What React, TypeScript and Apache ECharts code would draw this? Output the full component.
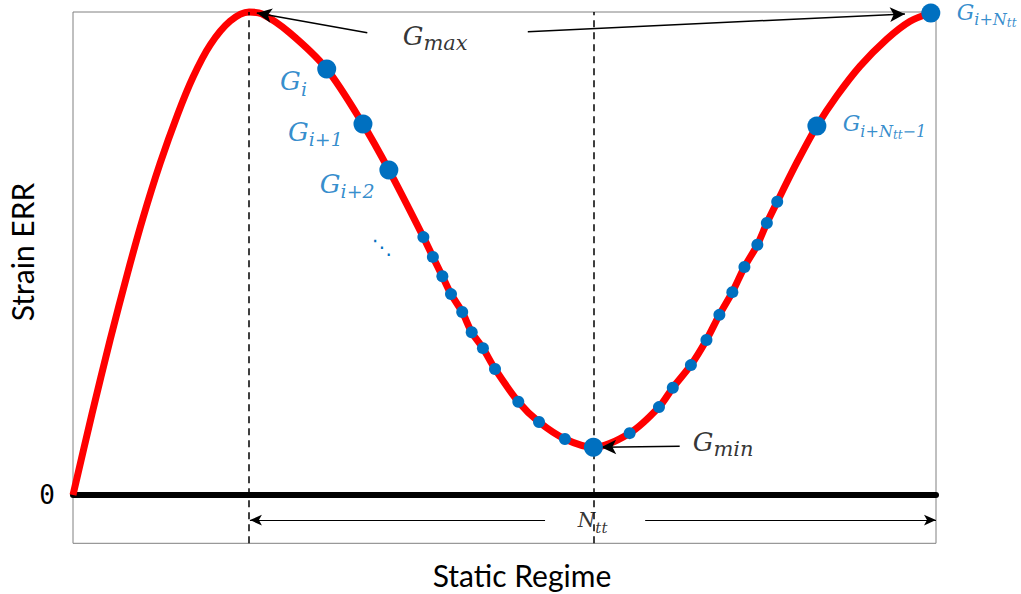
import React, { useEffect, useRef } from 'react';
import * as echarts from 'echarts';

// Red curve (x: 0..100 across the frame, y: strain ERR normalised so G_max = 1)
const curveX = [0.0, 2.2, 4.3, 6.3, 8.1, 10.1, 12.1, 13.9, 15.9, 18.2, 20.4, 21.9, 25.1, 29.4, 33.6, 36.6, 40.6, 41.7, 42.8, 43.8, 45.1, 46.2, 47.5, 48.9, 51.6, 54.0, 57.0, 60.3, 64.5, 67.9, 69.5, 71.6, 73.4, 74.9, 76.4, 77.8, 79.3, 80.4, 81.6, 83.9, 86.2, 88.5, 91.2, 94.3, 97.0, 99.4];
const curveY = [0, 0.168, 0.321, 0.458, 0.573, 0.687, 0.787, 0.865, 0.932, 0.981, 1.0, 0.996, 0.957, 0.882, 0.768, 0.673, 0.534, 0.493, 0.453, 0.416, 0.379, 0.337, 0.304, 0.261, 0.193, 0.151, 0.116, 0.099, 0.128, 0.182, 0.222, 0.269, 0.321, 0.373, 0.42, 0.472, 0.518, 0.563, 0.607, 0.689, 0.764, 0.826, 0.888, 0.944, 0.981, 0.998];

// Large blue points: G_i, G_i+1, G_i+2, G_min, G_i+Ntt-1, G_i+Ntt
const bigDotX = [29.4, 33.6, 36.6, 60.3, 86.2, 99.4];
const bigDotY = [0.882, 0.768, 0.673, 0.099, 0.764, 0.998];

// Small blue points
const smallDotX = [40.6, 41.7, 42.8, 43.8, 45.1, 46.2, 47.5, 48.9, 51.6, 54.0, 57.0, 64.5, 67.9, 69.5, 71.6, 73.4, 74.9, 76.4, 77.8, 79.3, 80.4, 81.6];
const smallDotY = [0.534, 0.493, 0.453, 0.416, 0.379, 0.337, 0.304, 0.261, 0.193, 0.151, 0.116, 0.128, 0.182, 0.222, 0.269, 0.321, 0.373, 0.42, 0.472, 0.518, 0.563, 0.607];

// Dashed vertical guides (G_max and G_min positions)
const dashedX = [20.4, 60.3];

// Annotation labels (left edge of "G", centre of "G")
const labelTexts = [
  '{bg|G}{bs|i}',
  '{bg|G}{bs|i+1}',
  '{bg|G}{bs|i+2}',
  '{rg|G}{rs|i+N}{rss|tt}{rs|−1}',
  '{rg|G}{rs2|i+N}{rss2|tt}',
  '{kg|G}{ks|max}',
  '{kg|G}{ks2|min}',
  '{ng|N}{ns|tt}',
];
const labelX = [24.0, 24.9, 28.6, 89.2, 102.4, 38.2, 71.8, 58.5];
const labelY = [0.857, 0.752, 0.644, 0.77, 0.999, 0.95, 0.11, -0.052];

// Arrows: [fromX, fromY, toX, toY]
const arrowsThick = [
  [34.1, 0.957, 21.3, 0.998],
  [52.7, 0.959, 96.4, 0.996],
  [70.3, 0.101, 61.2, 0.099],
];
const arrowsThin = [
  [54.7, -0.052, 20.5, -0.052],
  [66.3, -0.052, 100, -0.052],
];

const yTicks = { min: -0.1, max: 1.0, interval: 0.1 };

const BLUE = '#0070C0';
const RED = '#FF0000';
const MATH = "'DejaVu Serif', serif";

export default function App() {
  const ref = useRef<HTMLDivElement>(null);

  useEffect(() => {
    if (!ref.current) return;
    const chart = echarts.init(ref.current, null, { renderer: 'svg' });

    const rich: any = {
      bg: { fontFamily: MATH, fontStyle: 'italic', fontSize: 26, color: BLUE },
      bs: { fontFamily: MATH, fontStyle: 'italic', fontSize: 19, color: BLUE, padding: [15, 0, 0, 0] },
      rg: { fontFamily: MATH, fontStyle: 'italic', fontSize: 22, color: BLUE },
      rs: { fontFamily: MATH, fontStyle: 'italic', fontSize: 16, color: BLUE, padding: [16, 0, 0, 0] },
      rss: { fontFamily: MATH, fontStyle: 'italic', fontSize: 12, color: BLUE, padding: [24, 0, 0, 0] },
      rs2: { fontFamily: MATH, fontStyle: 'italic', fontSize: 16, color: BLUE, padding: [14, 0, 0, 0] },
      rss2: { fontFamily: MATH, fontStyle: 'italic', fontSize: 12, color: BLUE, padding: [22, 0, 0, 0] },
      kg: { fontFamily: MATH, fontStyle: 'italic', fontSize: 26, color: '#000' },
      ks: { fontFamily: MATH, fontStyle: 'italic', fontSize: 21, color: '#000', padding: [13, 0, 0, 0] },
      ks2: { fontFamily: MATH, fontStyle: 'italic', fontSize: 21, color: '#000', padding: [14, 0, 0, 0] },
      ng: { fontFamily: MATH, fontStyle: 'italic', fontSize: 20, color: '#000' },
      ns: { fontFamily: MATH, fontStyle: 'italic', fontSize: 15, color: '#000', padding: [15, 0, 0, 0] },
    };

    const mkArrow = (a: number[]) => [
      { coord: [a[0], a[1]], symbol: 'none' },
      { coord: [a[2], a[3]], symbol: 'arrow' },
    ];

    const option: any = {
      animation: false,
      grid: {
        left: 73,
        right: 85,
        top: 12,
        bottom: 50.7,
        show: true,
        borderColor: '#808080',
        borderWidth: 1,
        backgroundColor: 'transparent',
      },
      xAxis: {
        type: 'value',
        min: 0,
        max: 100,
        axisLine: { show: true, onZero: true, lineStyle: { color: '#000', width: 6 } },
        axisTick: { show: false },
        axisLabel: { show: false },
        splitLine: { show: false },
      },
      yAxis: {
        type: 'value',
        min: yTicks.min,
        max: yTicks.max,
        interval: yTicks.interval,
        axisLine: { show: false },
        axisTick: { show: false },
        splitLine: { show: false },
        axisLabel: {
          show: true,
          margin: 18,
          fontFamily: "'DejaVu Sans Mono', monospace",
          fontSize: 26,
          color: '#000',
          formatter: (v: number) => (Math.abs(v) < 1e-9 ? '0' : ''),
        },
      },
      graphic: [
        {
          type: 'text',
          x: 22,
          y: 252,
          rotation: Math.PI / 2,
          style: {
            text: 'Strain ERR',
            fontFamily: 'Lato, sans-serif',
            fontSize: 30,
            fill: '#000',
            align: 'center',
            verticalAlign: 'middle',
          },
        },
        {
          type: 'text',
          x: 522,
          y: 575,
          style: {
            text: 'Static Regime',
            fontFamily: 'Lato, sans-serif',
            fontSize: 30,
            fill: '#000',
            align: 'center',
            verticalAlign: 'middle',
          },
        },
        {
          type: 'text',
          x: 382,
          y: 247,
          style: {
            text: '⋱',
            fontFamily: "'DejaVu Sans', sans-serif",
            fontSize: 20,
            fill: BLUE,
            align: 'center',
            verticalAlign: 'middle',
          },
        },
      ],
      series: [
        {
          type: 'line',
          data: [],
          silent: true,
          z: 1,
          markLine: {
            silent: true,
            symbol: 'none',
            label: { show: false },
            lineStyle: { color: '#000', width: 1.5, type: [7, 5] },
            data: dashedX.map((x) => ({ xAxis: x })),
          },
        },
        {
          type: 'line',
          data: [],
          silent: true,
          z: 6,
          markLine: {
            silent: true,
            symbolSize: [11, 15],
            label: { show: false },
            lineStyle: { color: '#000', width: 1.5, type: 'solid' },
            data: arrowsThick.map(mkArrow),
          },
        },
        {
          type: 'line',
          data: [],
          silent: true,
          z: 6,
          markLine: {
            silent: true,
            symbolSize: [8, 12],
            label: { show: false },
            lineStyle: { color: '#000', width: 1, type: 'solid' },
            data: arrowsThin.map(mkArrow),
          },
        },
        {
          type: 'line',
          data: curveX.map((x, i) => [x, curveY[i]]),
          smooth: 0.3,
          showSymbol: false,
          clip: false,
          silent: true,
          z: 3,
          lineStyle: { color: RED, width: 7 },
        },
        {
          type: 'scatter',
          data: smallDotX.map((x, i) => [x, smallDotY[i]]),
          symbolSize: 12,
          clip: false,
          silent: true,
          z: 4,
          itemStyle: { color: BLUE, opacity: 1 },
        },
        {
          type: 'scatter',
          data: bigDotX.map((x, i) => [x, bigDotY[i]]),
          symbolSize: 19,
          clip: false,
          silent: true,
          z: 5,
          itemStyle: { color: BLUE, opacity: 1 },
        },
        {
          type: 'scatter',
          data: labelX.map((x, i) => ({
            value: [x, labelY[i]],
            label: { formatter: labelTexts[i] },
          })),
          symbolSize: 1,
          clip: false,
          silent: true,
          z: 7,
          itemStyle: { color: 'rgba(0,0,0,0)' },
          label: {
            show: true,
            position: 'inside',
            align: 'left',
            verticalAlign: 'middle',
            rich,
          },
        },
      ],
    };

    chart.setOption(option);
    return () => chart.dispose();
  }, []);

  return (
    <div
      ref={ref}
      style={{ position: 'fixed', left: 0, top: 0, width: 1021, height: 594, background: '#fff' }}
    />
  );
}
